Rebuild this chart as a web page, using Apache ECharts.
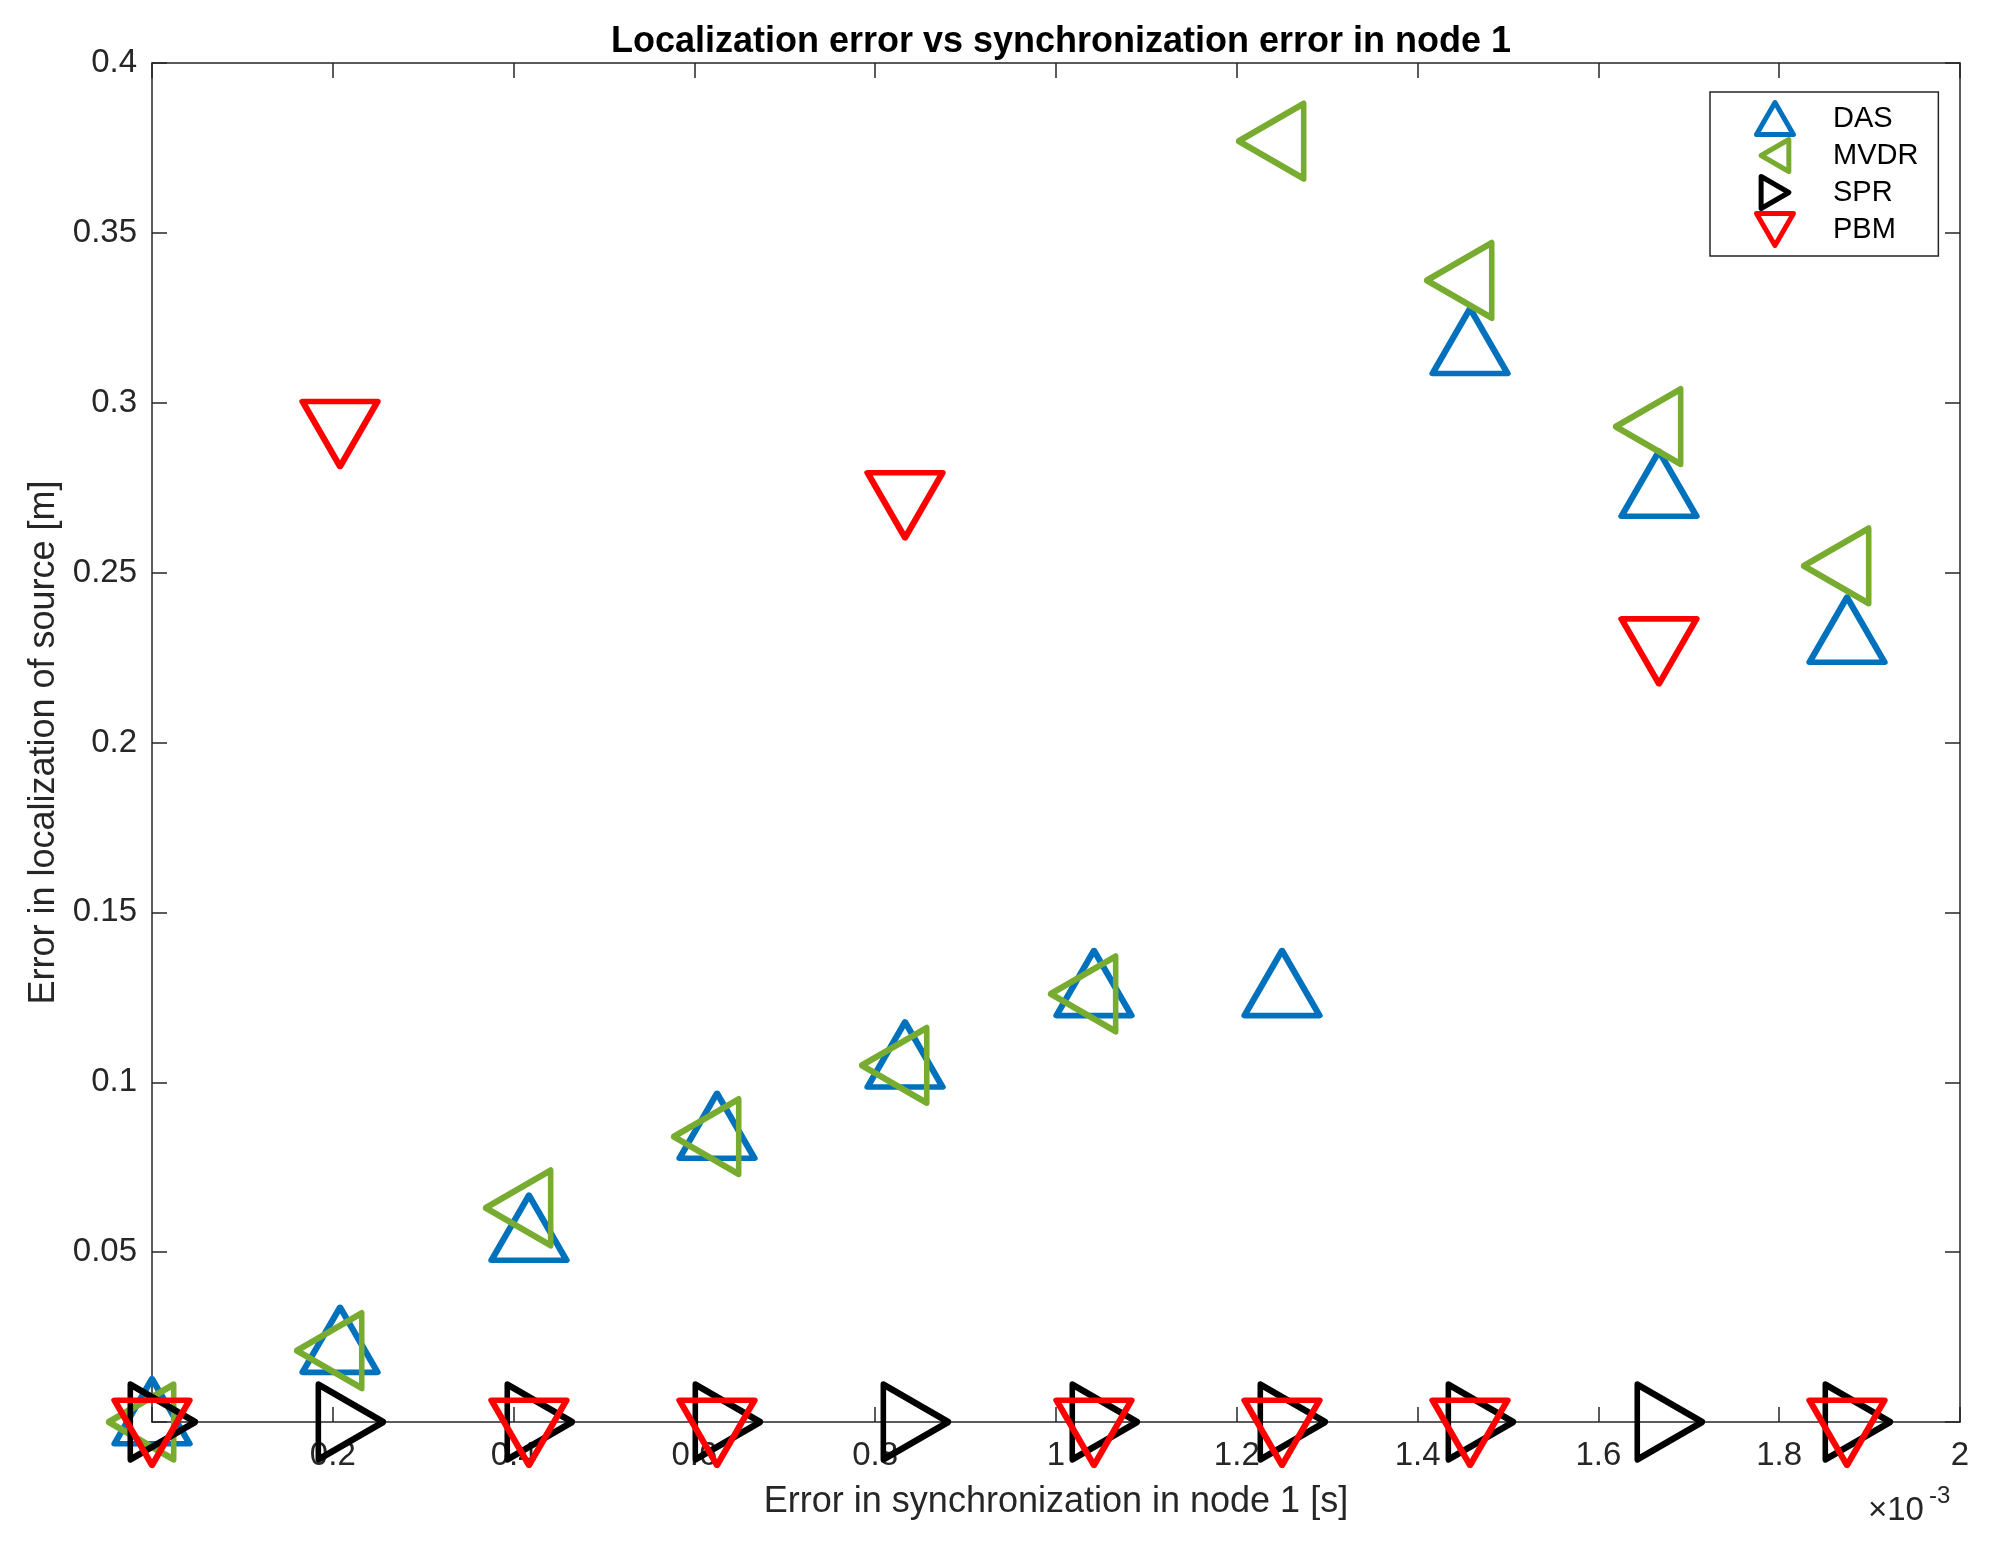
<!DOCTYPE html>
<html>
<head>
<meta charset="utf-8">
<title>Localization error vs synchronization error in node 1</title>
<script src="https://cdn.jsdelivr.net/npm/echarts@6/dist/echarts.min.js"></script>
<style>
  html, body { margin: 0; padding: 0; background: #fff; }
  #main { width: 1989px; height: 1551px; }
</style>
</head>
<body>
<div id="main"></div>
<script>
// synchronization error in node 1 [s]
const syncError = [0, 0.000208, 0.000417, 0.000625, 0.000833, 0.001042, 0.00125, 0.001458, 0.001667, 0.001875]
// localization error [m]
const dasErr  = [0, 0.021, 0.054, 0.084, 0.105, 0.126, 0.126, 0.315, 0.273, 0.230]
const mvdrErr = [0, 0.021, 0.063, 0.084, 0.105, 0.126, 0.377, 0.336, 0.293, 0.252]
const sprErr  = [0, 0, 0, 0, 0, 0, 0, 0, 0, 0]
const pbmErr  = [0, 0.294, 0, 0, 0.273, 0, 0, 0, 0.230, 0]

const seriesNames = ['DAS', 'MVDR', 'SPR', 'PBM']
const seriesColors = ['#0072BD', '#77AC30', '#000000', '#FF0000']

// triangle markers, matlab style (^ < > v)
const triUp = 'path://M0,1.5 L0.866,0 L1.732,1.5 Z'
const triLeft = 'path://M0,0.866 L1.5,0 L1.5,1.732 Z'
const triRight = 'path://M0,0 L1.5,0.866 L0,1.732 Z'
const triDown = 'path://M0,0 L1.732,0 L0.866,1.5 Z'
const symbols = [triUp, triLeft, triRight, triDown]
// matlab puts the centroid on the point, echarts the bbox centre
const symbolSizes = [[75, 65], [65, 75], [65, 75], [75, 65]]
const symbolOffsets = [[0, -10.8], [-10.8, 0], [10.8, 0], [0, 10.8]]

const allErr = [dasErr, mvdrErr, sprErr, pbmErr]

function pairs(xs, ys) {
  let out = []
  for (let i = 0; i < xs.length; i++) {
    out.push([xs[i], ys[i]])
  }
  return out
}

const chart = echarts.init(document.getElementById('main'), null, { renderer: 'canvas' })

const textColor = '#262626'
const font = 'Liberation Sans, Arial, Helvetica, sans-serif'

let series = []
for (let i = 0; i < seriesNames.length; i++) {
  series.push({
    name: seriesNames[i],
    type: 'scatter',
    clip: false,
    symbol: symbols[i],
    symbolSize: symbolSizes[i],
    symbolOffset: symbolOffsets[i],
    itemStyle: {
      color: 'transparent',
      borderColor: seriesColors[i],
      borderWidth: 6,
      borderJoin: 'round',
      opacity: 1
    },
    emphasis: { disabled: true },
    data: pairs(syncError, allErr[i]),
    z: 3 + i
  })
}

let legendData = []
for (let i = 0; i < seriesNames.length; i++) {
  legendData.push({
    name: seriesNames[i],
    icon: symbols[i],
    itemStyle: { color: 'transparent', borderColor: seriesColors[i], borderWidth: 5, borderJoin: 'round' }
  })
}

const option = {
  backgroundColor: '#ffffff',
  animation: false,
  textStyle: { fontFamily: font },
  title: {
    text: 'Localization error vs synchronization error in node 1',
    left: 1056,
    top: 19,
    textAlign: 'center',
    textStyle: { fontFamily: font, fontSize: 36, fontWeight: 'bold', color: '#000' }
  },
  legend: {
    orient: 'vertical',
    left: 1710,
    top: 92,
    padding: [8, 20, 8, 44],
    itemWidth: 38,
    itemHeight: 32,
    itemGap: 0,
    symbolKeepAspect: true,
    borderColor: textColor,
    borderWidth: 1.5,
    borderRadius: 0,
    backgroundColor: '#fff',
    selectedMode: false,
    itemStyle: { borderWidth: 5 },
    textStyle: { fontFamily: font, fontSize: 29, lineHeight: 30, color: '#000', padding: [0, 0, 0, 34] },
    data: legendData
  },
  grid: {
    left: 152,
    right: 29,
    top: 63,
    bottom: 129,
    outerBoundsMode: 'none',
    containLabel: false
  },
  xAxis: [
    {
      type: 'value',
      min: 0,
      max: 0.002,
      interval: 0.0002,
      name: 'Error in synchronization in node 1 [s]',
      nameLocation: 'middle',
      nameGap: 62,
      nameTextStyle: { fontFamily: font, fontSize: 36, color: textColor },
      axisLine: { show: true, onZero: false, lineStyle: { color: textColor, width: 1.5 } },
      axisTick: { show: true, inside: true, length: 15, lineStyle: { color: textColor, width: 1.5 } },
      axisLabel: {
        margin: 17,
        fontFamily: font,
        fontSize: 33,
        color: textColor,
        formatter: function (v) {
          if (v === 0) return ''
          return String(Math.round(v * 10000) / 10)
        }
      },
      splitLine: { show: false }
    },
    {
      type: 'value',
      position: 'top',
      min: 0,
      max: 0.002,
      interval: 0.0002,
      axisLine: { show: true, onZero: false, lineStyle: { color: textColor, width: 1.5 } },
      axisTick: { show: true, inside: true, length: 15, lineStyle: { color: textColor, width: 1.5 } },
      axisLabel: { show: false },
      splitLine: { show: false }
    }
  ],
  yAxis: [
    {
      type: 'value',
      min: 0,
      max: 0.4,
      interval: 0.05,
      name: 'Error in localization of source [m]',
      nameLocation: 'middle',
      nameGap: 88,
      nameTextStyle: { fontFamily: font, fontSize: 36, color: textColor },
      axisLine: { show: true, onZero: false, lineStyle: { color: textColor, width: 1.5 } },
      axisTick: { show: true, inside: true, length: 15, lineStyle: { color: textColor, width: 1.5 } },
      axisLabel: {
        margin: 15,
        fontFamily: font,
        fontSize: 33,
        color: textColor,
        formatter: function (v) {
          if (v === 0) return ''
          return String(Math.round(v * 100) / 100)
        }
      },
      splitLine: { show: false }
    },
    {
      type: 'value',
      position: 'right',
      min: 0,
      max: 0.4,
      interval: 0.05,
      axisLine: { show: true, onZero: false, lineStyle: { color: textColor, width: 1.5 } },
      axisTick: { show: true, inside: true, length: 15, lineStyle: { color: textColor, width: 1.5 } },
      axisLabel: { show: false },
      splitLine: { show: false }
    }
  ],
  graphic: [
    {
      type: 'text',
      left: 1868,
      top: 1494,
      style: { text: '×10', fontFamily: font, fontSize: 33, fill: textColor }
    },
    {
      type: 'text',
      left: 1929,
      top: 1484,
      style: { text: '-3', fontFamily: font, fontSize: 24, fill: textColor }
    }
  ],
  series: series
}

chart.setOption(option)
</script>
</body>
</html>
